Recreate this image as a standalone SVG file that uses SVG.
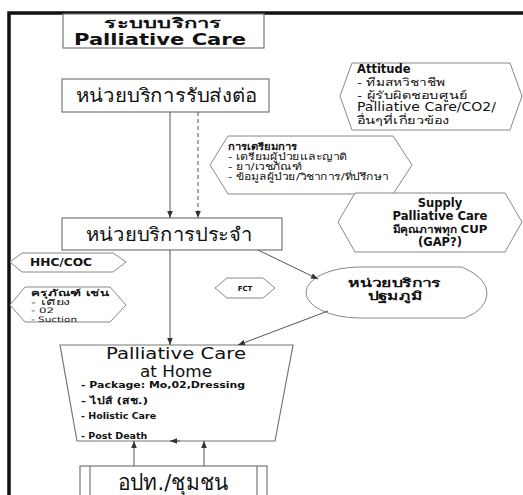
<svg xmlns="http://www.w3.org/2000/svg" width="523" height="495" viewBox="0 0 523 495">
<defs>
<marker id="ah" viewBox="0 0 10 10" refX="10" refY="5" markerWidth="7" markerHeight="7" markerUnits="userSpaceOnUse" orient="auto"><path d="M0,1 L10,5 L0,9 z" fill="#333"/></marker>
<style>
.box{fill:#fff;stroke:#777;stroke-width:1.2}
.hex{fill:#fff;stroke:#888;stroke-width:1}
.t{font-family:"DejaVu Sans","Noto Sans",sans-serif;fill:#111}
.b{font-weight:bold}
.c{text-anchor:middle}
.ln{stroke:#555;stroke-width:1;fill:none}
</style>
</defs>
<rect width="523" height="495" fill="#fff"/>
<path d="M9,495 V13 H523" fill="none" stroke="#111" stroke-width="3.5"/>

<g id="title">
<rect class="box" x="63" y="14" width="201" height="34"/>
<text class="t b c" x="163" y="28" font-size="14" textLength="118" lengthAdjust="spacingAndGlyphs">ระบบบริการ</text>
<text class="t b c" x="160" y="45" font-size="16" textLength="172" lengthAdjust="spacingAndGlyphs">Palliative Care</text>
</g>

<g id="referral">
<rect class="box" x="62" y="79" width="207" height="33"/>
<text class="t c" x="166" y="102" font-size="19" textLength="181" lengthAdjust="spacingAndGlyphs">หน่วยบริการรับส่งต่อ</text>
</g>

<g id="attitude">
<polygon class="hex" points="340,96 352,63 510,63 522,96 510,130 352,130"/>
<text class="t b" x="357" y="73" font-size="11.5">Attitude</text>
<text class="t" x="357" y="86" font-size="10.5" textLength="88" lengthAdjust="spacingAndGlyphs">- ทีมสหวิชาชีพ</text>
<text class="t" x="357" y="98.5" font-size="10.5" textLength="110" lengthAdjust="spacingAndGlyphs">- ผู้รับผิดชอบศูนย์</text>
<text class="t" x="357" y="110.5" font-size="11.5" textLength="139" lengthAdjust="spacingAndGlyphs">Palliative Care/CO2/</text>
<text class="t" x="357" y="124" font-size="10.5" textLength="92" lengthAdjust="spacingAndGlyphs">อื่นๆที่เกี่ยวข้อง</text>
</g>

<g id="preparation">
<polygon class="hex" points="210,165 228,136 393,136 412,165 393,194 228,194"/>
<text class="t b" x="228" y="150" font-size="9.5" textLength="69" lengthAdjust="spacingAndGlyphs">การเตรียมการ</text>
<text class="t" x="228" y="160" font-size="9.5" textLength="119" lengthAdjust="spacingAndGlyphs">- เตรียมผู้ป่วยและญาติ</text>
<text class="t" x="228" y="170" font-size="9.5" textLength="74" lengthAdjust="spacingAndGlyphs">- ยา/เวชภัณฑ์</text>
<text class="t" x="228" y="180" font-size="9.5" textLength="160" lengthAdjust="spacingAndGlyphs">- ข้อมูลผู้ป่วย/วิชาการ/ที่ปรึกษา</text>
</g>

<g id="supply">
<polygon class="hex" points="338,222 355,193 505,193 522,222 505,252 355,252"/>
<text class="t b c" x="440" y="207" font-size="11.5">Supply</text>
<text class="t b c" x="440" y="219.5" font-size="11.5" textLength="95" lengthAdjust="spacingAndGlyphs">Palliative Care</text>
<text class="t b c" x="440" y="233" font-size="10.5" textLength="95" lengthAdjust="spacingAndGlyphs">มีคุณภาพทุก CUP</text>
<text class="t b c" x="440" y="246" font-size="11.5">(GAP?)</text>
</g>

<g id="regular">
<rect class="box" x="62" y="218" width="220" height="32"/>
<text class="t c" x="169" y="241" font-size="19" textLength="167" lengthAdjust="spacingAndGlyphs">หน่วยบริการประจำ</text>
</g>

<g id="hhc">
<polygon class="hex" points="10,262 22,253 113,253 126,262 113,272 22,272"/>
<text class="t b" x="30" y="266" font-size="10" textLength="62" lengthAdjust="spacingAndGlyphs">HHC/COC</text>
</g>

<g id="equipment">
<polygon class="hex" points="10,305 25,287 110,287 126,305 110,322 25,322"/>
<text class="t b" x="31" y="296" font-size="8.5" textLength="78" lengthAdjust="spacingAndGlyphs">ครุภัณฑ์ เช่น</text>
<text class="t" x="31" y="304.5" font-size="7.5" textLength="40" lengthAdjust="spacingAndGlyphs">- เตียง</text>
<text class="t" x="31" y="313" font-size="7.5" textLength="23" lengthAdjust="spacingAndGlyphs">- 02</text>
<text class="t" x="31" y="321.5" font-size="7.5" textLength="46" lengthAdjust="spacingAndGlyphs">- Suction</text>
</g>

<g id="fct">
<polygon class="hex" points="215,288 227,278 263,278 275,288 263,298 227,298"/>
<text class="t b c" x="245" y="291" font-size="7">FCT</text>
</g>

<g id="primary">
<path class="hex" d="M360,267 L462,267 Q487,278 487,293 Q487,309 465,318 L360,318 A54,25.5 0 0 1 360,267 Z"/>
<text class="t b c" x="394" y="287" font-size="11.5" textLength="93" lengthAdjust="spacingAndGlyphs">หน่วยบริการ</text>
<text class="t b c" x="395" y="300" font-size="11.5" textLength="55" lengthAdjust="spacingAndGlyphs">ปฐมภูมิ</text>
</g>

<g id="home">
<polygon class="box" points="60,345 293,345 275,441 77,441"/>
<text class="t c" x="176" y="359" font-size="15" textLength="140" lengthAdjust="spacingAndGlyphs">Palliative Care</text>
<text class="t c" x="176" y="376.5" font-size="15" textLength="72" lengthAdjust="spacingAndGlyphs">at Home</text>
<text class="t b" x="81" y="388" font-size="9" textLength="164" lengthAdjust="spacingAndGlyphs">- Package: Mo,02,Dressing</text>
<text class="t b" x="81" y="404" font-size="9.5" textLength="67" lengthAdjust="spacingAndGlyphs">- ไปส์ (สช.)</text>
<text class="t b" x="81" y="419" font-size="9.5">- Holistic Care</text>
<text class="t b" x="81" y="439" font-size="9.5">- Post Death</text>
</g>

<g id="community">
<rect class="box" x="80" y="466" width="187" height="40"/>
<line class="box" x1="90" y1="466" x2="90" y2="495"/>
<line class="box" x1="257" y1="466" x2="257" y2="495"/>
<text class="t c" x="173" y="490" font-size="22" textLength="111" lengthAdjust="spacingAndGlyphs">อปท./ชุมชน</text>
</g>

<g id="connectors">
<line class="ln" x1="170" y1="112" x2="170" y2="218" marker-end="url(#ah)"/>
<line class="ln" x1="198" y1="112" x2="198" y2="218" stroke-dasharray="4,3" marker-end="url(#ah)"/>
<line class="ln" x1="170" y1="250" x2="170" y2="345" marker-end="url(#ah)"/>
<line class="ln" x1="258" y1="250" x2="318" y2="279" marker-end="url(#ah)"/>
<line class="ln" x1="328" y1="311" x2="238" y2="345" marker-end="url(#ah)"/>
<line class="ln" x1="134" y1="466" x2="134" y2="441" marker-end="url(#ah)"/>
<line class="ln" x1="204" y1="466" x2="204" y2="441" marker-end="url(#ah)"/>
<line class="ln" x1="180" y1="441" x2="170" y2="441" marker-end="url(#ah)"/>
</g>
</svg>
